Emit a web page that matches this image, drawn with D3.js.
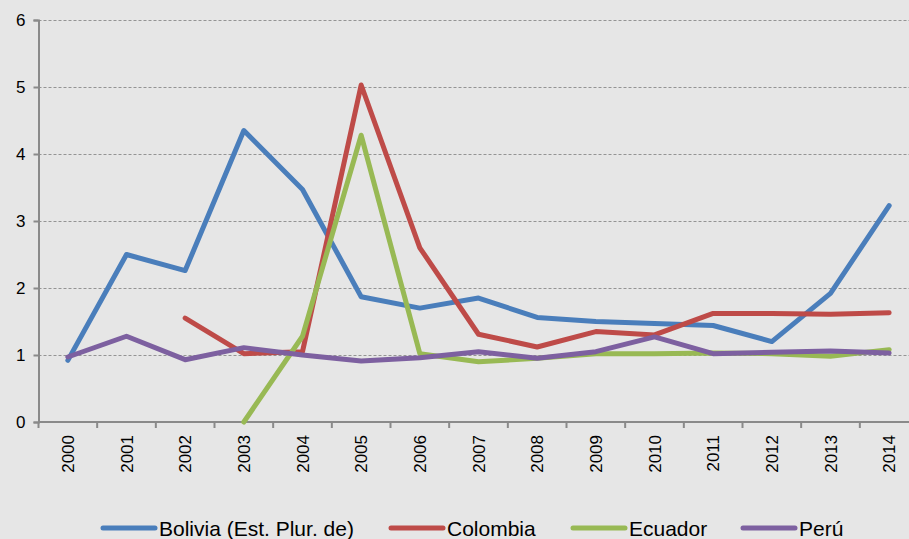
<!DOCTYPE html>
<html>
<head>
<meta charset="utf-8">
<script src="https://cdn.jsdelivr.net/npm/d3@7"></script>
<style>
  body { margin: 0; background: #e6e6e6; }
  svg { display: block; font-family: "Liberation Sans", Arial, sans-serif; }
</style>
</head>
<body>
<div class="mainVis"></div>
<script>
var years = ["2000", "2001", "2002", "2003", "2004", "2005", "2006", "2007",
             "2008", "2009", "2010", "2011", "2012", "2013", "2014"]

var bolivia  = [0.92, 2.50, 2.26, 4.35, 3.47, 1.87, 1.70, 1.85, 1.56, 1.50, 1.47, 1.44, 1.20, 1.92, 3.23]
var colombia = [null, null, 1.55, 1.02, 1.05, 5.03, 2.60, 1.31, 1.12, 1.35, 1.30, 1.62, 1.62, 1.61, 1.63]
var ecuador  = [null, null, null, 0.00, 1.28, 4.28, 1.02, 0.90, 0.95, 1.02, 1.02, 1.03, 1.02, 0.98, 1.08]
var peru     = [0.97, 1.28, 0.93, 1.11, 1.00, 0.91, 0.96, 1.05, 0.95, 1.05, 1.27, 1.02, 1.04, 1.06, 1.03]

var seriesNames = ["Bolivia (Est. Plur. de)", "Colombia", "Ecuador", "Perú"]
var yTicks = [0, 1, 2, 3, 4, 5, 6]

var colorMap = {
    "Bolivia (Est. Plur. de)": "#4a7ebb",
    "Colombia": "#be4b48",
    "Ecuador": "#98b954",
    "Perú": "#7d60a0"
}

var series = [
    { name: seriesNames[0], values: bolivia },
    { name: seriesNames[1], values: colombia },
    { name: seriesNames[2], values: ecuador },
    { name: seriesNames[3], values: peru }
]

var width = 909, height = 539

var canvas = d3.select(".mainVis")
    .append("svg")
    .attr("width", width)
    .attr("height", height)

canvas.append("rect")
    .attr("width", width)
    .attr("height", height)
    .attr("fill", "#e6e6e6")

// plot area runs a bit past the right edge, like the cropped original
var x = d3.scaleBand()
    .domain(years)
    .range([38.5, 918.5])

var y = d3.scaleLinear()
    .domain([0, 6])
    .range([422, 20])

// dashed gridlines
canvas.append("g")
    .selectAll("line")
    .data(yTicks.filter(function(d) { return d > 0; }))
    .enter()
    .append("line")
    .attr("x1", 38.5)
    .attr("x2", width)
    .attr("y1", function(d) { return Math.round(y(d)) + 0.5; })
    .attr("y2", function(d) { return Math.round(y(d)) + 0.5; })
    .attr("stroke", "#949494")
    .attr("stroke-width", 1)
    .attr("stroke-dasharray", "3,2")

// y axis
var yAxis = canvas.append("g")
    .attr("transform", "translate(38.5,0)")
    .call(d3.axisLeft(y).tickValues(yTicks).tickSize(5).tickPadding(8).tickFormat(d3.format("d")))
yAxis.selectAll("path, line").attr("stroke", "#8a8a8a").attr("stroke-width", 2)
yAxis.selectAll("text").attr("font-size", 17).attr("fill", "#000").attr("font-family", "Liberation Sans, Arial, sans-serif")

// x axis, ticks between categories
var xAxis = canvas.append("g")
    .attr("transform", "translate(0," + y(0) + ")")
xAxis.append("line")
    .attr("x1", 38.5).attr("x2", width)
    .attr("stroke", "#8a8a8a").attr("stroke-width", 2)
xAxis.selectAll(".tick")
    .data(years)
    .enter()
    .append("line")
    .attr("x1", function(d) { return x(d); })
    .attr("x2", function(d) { return x(d); })
    .attr("y1", 0).attr("y2", 6)
    .attr("stroke", "#8a8a8a").attr("stroke-width", 2)
xAxis.selectAll("text")
    .data(years)
    .enter()
    .append("text")
    .attr("transform", function(d) {
        return "translate(" + (x(d) + x.bandwidth() / 2 + 6) + ",13) rotate(-90)";
    })
    .attr("text-anchor", "end")
    .attr("font-size", 17)
    .text(function(d) { return d; })

// lines
var line = d3.line()
    .defined(function(d) { return d != null; })
    .x(function(d, i) { return x(years[i]) + x.bandwidth() / 2; })
    .y(function(d) { return y(d); })

canvas.append("g")
    .selectAll("path")
    .data(series)
    .enter()
    .append("path")
    .attr("fill", "none")
    .attr("stroke", function(d) { return colorMap[d.name]; })
    .attr("stroke-width", 5)
    .attr("stroke-linejoin", "round")
    .attr("stroke-linecap", "round")
    .attr("d", function(d) { return line(d.values); })

// legend
var legendX = [103, 391, 573, 743]
var legend = canvas.append("g")
    .selectAll("g")
    .data(series)
    .enter()
    .append("g")
    .attr("transform", function(d, i) { return "translate(" + legendX[i] + ",528)"; })

legend.append("line")
    .attr("x1", 0).attr("x2", 52)
    .attr("stroke", function(d) { return colorMap[d.name]; })
    .attr("stroke-width", 5)
    .attr("stroke-linecap", "round")

legend.append("text")
    .attr("x", 56)
    .attr("y", 7.5)
    .attr("font-size", 21)
    .text(function(d) { return d.name; })
</script>
</body>
</html>
